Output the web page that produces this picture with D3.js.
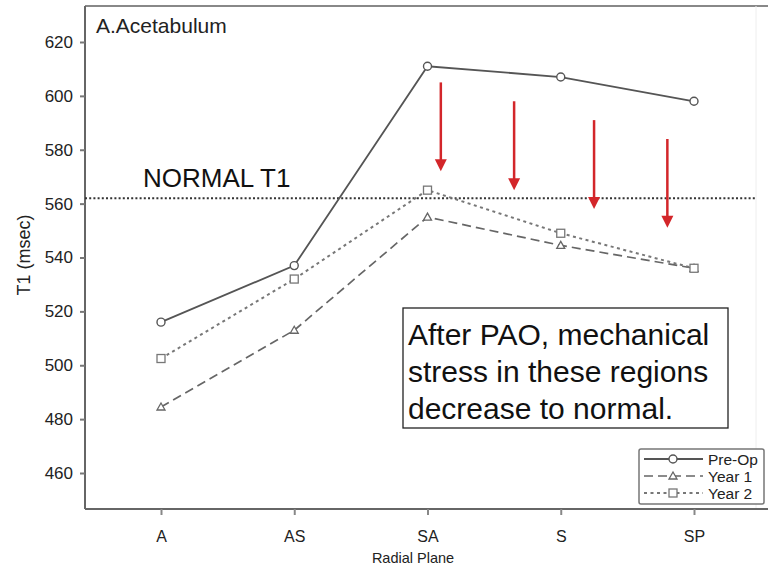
<!DOCTYPE html>
<html><head><meta charset="utf-8">
<script src="https://cdn.jsdelivr.net/npm/d3@7"></script>
<style>body{margin:0;background:#fff}svg{display:block;font-family:"Liberation Sans",Arial,sans-serif}</style>
</head><body><svg id="c" width="768" height="575"></svg>
<script>
const categories = ["A","AS","SA","S","SP"];
const preOp = [516, 537, 611, 607, 598];
const year1 = [484.5, 513, 555, 544.5, 536];
const year2 = [502.5, 532, 565, 549, 536];
const yTicks = [460,480,500,520,540,560,580,600,620];
const normalT1 = 562;
const arrowCats = [2.1, 2.65, 3.25, 3.8];
const arrowTop = [605, 598, 591, 584];
const arrowBot = [572, 565, 558, 551];

const svg = d3.select("#c");
const L=85, R=766, T=6, B=509;
const x = d3.scalePoint().domain(categories).range([161,694]);
const xc = d3.scaleLinear().domain([0,4]).range([161,694]);
const y = d3.scaleLinear().domain([460,620]).range([473,42]);

// frame
svg.append("line").attr("x1",L).attr("x2",768).attr("y1",T).attr("y2",T).attr("stroke","#888").attr("stroke-width",2);
svg.append("line").attr("x1",R-10).attr("x2",R-10).attr("y1",T).attr("y2",B).attr("stroke","#eee").attr("stroke-width",1);

const ya = svg.append("g").attr("transform",`translate(${L},0)`).call(d3.axisLeft(y).tickValues(yTicks).tickSize(5).tickSizeOuter(0));
ya.select(".domain").attr("d",`M0,${T}V${B}`).attr("stroke","#666").attr("stroke-width",2);
ya.selectAll(".tick line").attr("stroke","#777").attr("stroke-width",2);
ya.selectAll(".tick text").attr("font-size",17).attr("fill","#222").attr("x",-12).attr("font-family","Liberation Sans, Arial, sans-serif");

const xa = svg.append("g").attr("transform",`translate(0,${B})`).call(d3.axisBottom(x).tickSize(6).tickSizeOuter(0));
xa.select(".domain").attr("d",`M${L},0H768`).attr("stroke","#666").attr("stroke-width",2);
xa.selectAll(".tick line").attr("stroke","#888").attr("stroke-width",2);
xa.selectAll(".tick text").attr("font-size",16).attr("fill","#222").attr("y",22).attr("font-family","Liberation Sans, Arial, sans-serif");

svg.append("text").attr("x",413).attr("y",563).attr("text-anchor","middle").attr("font-size",14.5).attr("fill","#222").text("Radial Plane");
svg.append("text").attr("transform","translate(30,255) rotate(-90)").attr("text-anchor","middle").attr("font-size",18).attr("fill","#222").text("T1 (msec)");
svg.append("text").attr("x",96).attr("y",33).attr("font-size",21).attr("fill","#222").text("A.Acetabulum");

// normal line
svg.append("line").attr("x1",L).attr("x2",757).attr("y1",y(normalT1)).attr("y2",y(normalT1))
  .attr("stroke","#333").attr("stroke-width",2.2).attr("stroke-dasharray","2,2.2");
svg.append("text").attr("x",143).attr("y",187).attr("font-size",26).attr("fill","#111").text("NORMAL T1");

const series = [
  {name:"Pre-Op", vals:preOp, dash:null, color:"#555", w:1.8, m:"circle"},
  {name:"Year 1", vals:year1, dash:"9,5", color:"#666", w:1.7, m:"tri"},
  {name:"Year 2", vals:year2, dash:"3,3.5", color:"#777", w:2, m:"sq"}
];
const line = d3.line().x((d,i)=>x(categories[i])).y(d=>y(d));
function marker(g, cx, cy, m, color){
  if(m==="circle") g.append("circle").attr("cx",cx).attr("cy",cy).attr("r",4).attr("fill","#fff").attr("stroke",color).attr("stroke-width",1.4);
  else if(m==="tri") g.append("path").attr("d",`M${cx},${cy-4}L${cx+4},${cy+3}L${cx-4},${cy+3}Z`).attr("fill","#fff").attr("stroke",color).attr("stroke-width",1.3);
  else g.append("rect").attr("x",cx-4).attr("y",cy-4).attr("width",8).attr("height",8).attr("fill","#fff").attr("stroke",color).attr("stroke-width",1.3);
}
series.forEach(s=>{
  svg.append("path").datum(s.vals).attr("d",line).attr("fill","none").attr("stroke",s.color).attr("stroke-width",s.w).attr("stroke-dasharray",s.dash);
  const g=svg.append("g");
  s.vals.forEach((v,i)=>marker(g,x(categories[i]),y(v),s.m,s.color));
});

// arrows
const red="#d3262a";
arrowCats.forEach((c,i)=>{
  const ax=xc(c), y1=y(arrowTop[i]), y2=y(arrowBot[i]);
  svg.append("line").attr("x1",ax).attr("x2",ax).attr("y1",y1).attr("y2",y2-8).attr("stroke",red).attr("stroke-width",2.5);
  svg.append("path").attr("d",`M${ax-6},${y2-12}L${ax+6},${y2-12}L${ax},${y2}Z`).attr("fill",red);
});

// annotation box
svg.append("rect").attr("x",403).attr("y",308).attr("width",325).attr("height",120).attr("fill","#fff").attr("stroke","#222").attr("stroke-width",1.3);
["After PAO, mechanical","stress in these regions","decrease to normal."].forEach((t,i)=>{
  svg.append("text").attr("x",408).attr("y",345+i*37).attr("font-size",30).attr("fill","#111").text(t);
});

// legend
const lg=svg.append("g");
lg.append("rect").attr("x",639).attr("y",449).attr("width",125).attr("height",55).attr("rx",2).attr("fill","#fff").attr("stroke","#777").attr("stroke-width",1.5);
series.forEach((s,i)=>{
  const ly=459+i*17;
  lg.append("line").attr("x1",644).attr("x2",703).attr("y1",ly).attr("y2",ly).attr("stroke",s.color).attr("stroke-width",s.w).attr("stroke-dasharray",s.dash);
  marker(lg,673,ly,s.m,s.color);
  lg.append("text").attr("x",708).attr("y",ly+5.5).attr("font-size",15.5).attr("fill","#222").text(s.name);
});
</script></body></html>
